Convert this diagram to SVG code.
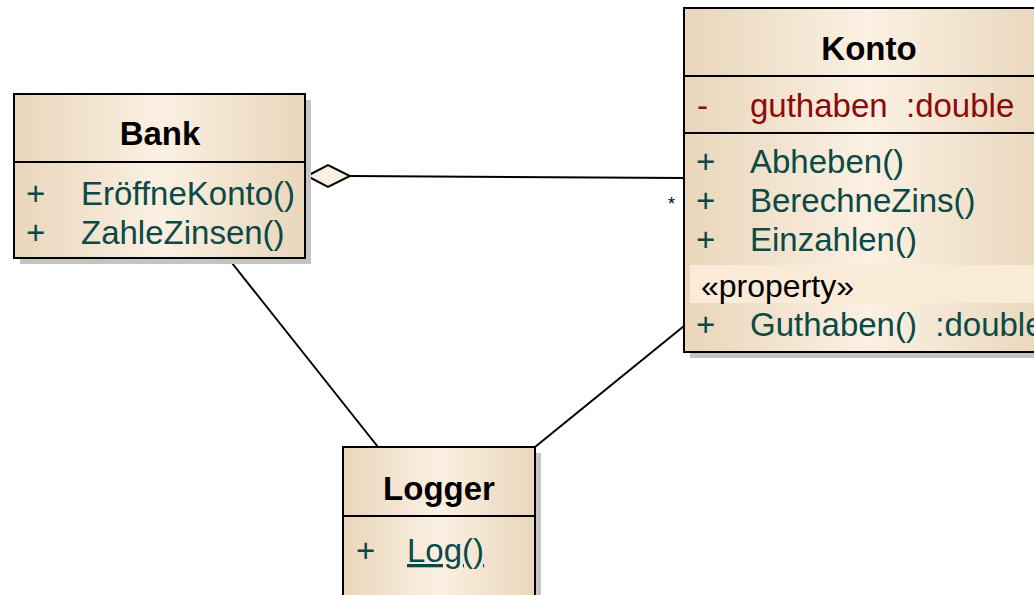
<svg xmlns="http://www.w3.org/2000/svg" width="1034" height="595" viewBox="0 0 1034 595">
  <defs>
    <linearGradient id="fill" x1="0" y1="0" x2="1" y2="0">
      <stop offset="0" stop-color="#e9d6bb"/>
      <stop offset="0.5" stop-color="#fbf0e2"/>
      <stop offset="1" stop-color="#e9d6bb"/>
    </linearGradient>
    <style>
      .box { fill: url(#fill); stroke: #000; stroke-width: 2; }
      .shadow { fill: #c4c4c4; }
      .sep { stroke: #000; stroke-width: 2; }
      text { white-space: pre; }
      .title { font-family: "Liberation Sans", Arial, sans-serif; font-weight: bold; font-size: 33px; fill: #000; text-anchor: middle; }
      .op { font-family: "Liberation Sans", Arial, sans-serif; font-size: 33px; fill: #0b4a46; }
      .attr { font-family: "Liberation Sans", Arial, sans-serif; font-size: 33px; fill: #8c0a0a; }
      .stereo { font-family: "Liberation Sans", Arial, sans-serif; font-size: 32px; fill: #000; }
      .conn { stroke: #000; stroke-width: 2; fill: none; }
    </style>
  </defs>
  <rect width="1034" height="595" fill="#fff"/>

  <!-- connectors -->
  <g id="connectors">
    <line class="conn" x1="350" y1="176" x2="684" y2="178"/>
    <polygon points="307,176 328,165 350,176 328,187" fill="#fbefdf" stroke="#000" stroke-width="2"/>
    <text x="668" y="210" font-family="Liberation Sans, Arial, sans-serif" font-size="18" fill="#000">*</text>
    <line class="conn" x1="228" y1="258" x2="378" y2="447"/>
    <line class="conn" x1="684" y1="326" x2="535" y2="447"/>
  </g>

  <!-- Bank -->
  <g id="bank">
    <rect class="shadow" x="20" y="100" width="291" height="164"/>
    <rect class="box" x="14" y="94" width="291" height="164"/>
    <line class="sep" x1="14" y1="162" x2="305" y2="162"/>
    <text class="title" x="160" y="145">Bank</text>
    <text class="op" x="26" y="205">+</text>
    <text class="op" x="81" y="205">EröffneKonto()</text>
    <text class="op" x="26" y="244">+</text>
    <text class="op" x="81" y="244">ZahleZinsen()</text>
  </g>

  <!-- Konto -->
  <g id="konto">
    <rect class="shadow" x="690" y="14" width="370" height="344"/>
    <rect class="box" x="684" y="8" width="370" height="344"/>
    <line class="sep" x1="684" y1="76" x2="1054" y2="76"/>
    <line class="sep" x1="684" y1="133" x2="1054" y2="133"/>
    <rect x="690" y="265" width="364" height="38" fill="#f9ebd7"/>
    <text class="title" x="869" y="60">Konto</text>
    <text class="attr" x="697" y="117">-</text>
    <text class="attr" x="750" y="117">guthaben  :double</text>
    <text class="op" x="696" y="173">+</text>
    <text class="op" x="750" y="173">Abheben()</text>
    <text class="op" x="696" y="212">+</text>
    <text class="op" x="750" y="212">BerechneZins()</text>
    <text class="op" x="696" y="251">+</text>
    <text class="op" x="750" y="251">Einzahlen()</text>
    <text class="stereo" x="701" y="297">«property»</text>
    <text class="op" x="696" y="336">+</text>
    <text class="op" x="750" y="336">Guthaben()  :double</text>
  </g>

  <!-- Logger -->
  <g id="logger">
    <rect class="shadow" x="349" y="453" width="192" height="160"/>
    <rect class="box" x="343" y="447" width="192" height="160"/>
    <line class="sep" x1="343" y1="516" x2="535" y2="516"/>
    <text class="title" x="439" y="500">Logger</text>
    <text class="op" x="356" y="562">+</text>
    <text class="op" x="407" y="562" text-decoration="underline">Log()</text>
  </g>
</svg>
